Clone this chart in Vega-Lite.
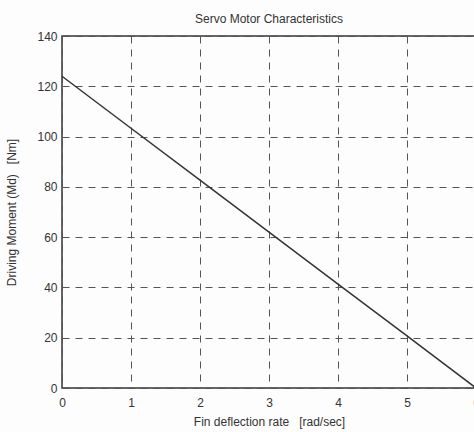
{
  "$schema": "https://vega.github.io/schema/vega-lite/v6.json",
  "autosize": {"type": "none"},
  "width": 414,
  "height": 352,
  "padding": {"left": 62, "top": 36, "right": 0, "bottom": 44},
  "background": "#fdfdfd",
  "title": {"text": "Servo Motor Characteristics", "font": "Liberation Sans", "fontSize": 12, "fontWeight": "normal", "color": "#333", "offset": 4, "anchor": "middle"},
  "config": {
    "view": {"stroke": "#333", "strokeWidth": 1.5},
    "axis": {"labelFont": "Liberation Sans", "labelFontSize": 12, "labelColor": "#333", "labelFlush": false, "titleFont": "Liberation Sans", "titleFontSize": 12, "titleFontWeight": "normal", "titleColor": "#333", "gridColor": "#555", "gridDash": [7, 6], "gridWidth": 1, "ticks": false, "domain": false}
  },
  "data": {"values": [
    {"rate": 0, "moment": 124},
    {"rate": 1, "moment": 103.3},
    {"rate": 2, "moment": 82.7},
    {"rate": 3, "moment": 62},
    {"rate": 4, "moment": 41.3},
    {"rate": 5, "moment": 20.7},
    {"rate": 6, "moment": 0}
  ]},
  "mark": {"type": "line", "color": "#333", "strokeWidth": 1.5},
  "encoding": {
    "x": {"field": "rate", "type": "quantitative", "scale": {"domain": [0, 6], "nice": false}, "axis": {"values": [0, 1, 2, 3, 4, 5, 6], "title": "Fin deflection rate\u00a0\u00a0\u00a0[rad/sec]", "labelPadding": 9, "titlePadding": 8}},
    "y": {"field": "moment", "type": "quantitative", "scale": {"domain": [0, 140], "nice": false}, "axis": {"values": [0, 20, 40, 60, 80, 100, 120, 140], "title": "Driving Moment (Md)\u00a0\u00a0\u00a0[Nm]", "labelPadding": 5, "titlePadding": 18}}
  }
}
